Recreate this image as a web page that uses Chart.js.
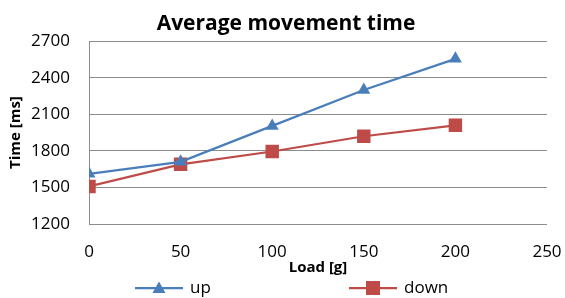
<!DOCTYPE html>
<html>
<head>
<meta charset="utf-8">
<script src="https://cdn.jsdelivr.net/npm/chart.js@4"></script>
<style>
  html, body { margin: 0; padding: 0; background: #fff; }
  #wrap { width: 565px; height: 298px; }
</style>
</head>
<body>
<div id="wrap"><canvas id="chart" width="565" height="298"></canvas></div>
<script>
// -- DATA
const loads    = [0, 50, 100, 150, 200];
const upTimes  = [1612, 1710, 2005, 2300, 2555];
const downTimes= [1508, 1690, 1795, 1920, 2010];
const yTicks   = [1200, 1500, 1800, 2100, 2400, 2700];
const xTicks   = [0, 50, 100, 150, 200, 250];
const seriesNames = ['up', 'down'];

const BLUE = '#4A7EBB';
const RED  = '#BE4B48';
const GRID = '#8C8C8C';
const FONT = '"Open Sans", "Liberation Sans", sans-serif';

// legend swatch: line with the marker on top
function legendMark(color, shape) {
  const c = document.createElement('canvas');
  c.width = 48; c.height = 16;
  const g = c.getContext('2d');
  g.strokeStyle = color; g.lineWidth = 2.25;
  g.beginPath(); g.moveTo(0, 8); g.lineTo(48, 8); g.stroke();
  g.fillStyle = color;
  if (shape === 'triangle') {
    g.beginPath(); g.moveTo(24, 1.5); g.lineTo(30.5, 13); g.lineTo(17.5, 13); g.closePath(); g.fill();
  } else {
    g.fillRect(17, 1, 14, 14);
  }
  return c;
}
const marks = [legendMark(BLUE, 'triangle'), legendMark(RED, 'rect')];

// -- BOTTOM LEGEND (spread out like the original, too wide for the built-in one)
const legendX = [135, 349];
const spreadLegend = {
  id: 'spreadLegend',
  afterDraw(chart) {
    const ctx = chart.ctx;
    const y = 288;
    ctx.save();
    ctx.font = '17px ' + FONT;
    ctx.fillStyle = '#000';
    ctx.textBaseline = 'middle';
    chart.data.datasets.forEach((ds, i) => {
      const m = marks[i];
      ctx.drawImage(m, legendX[i], y - m.height / 2);
      ctx.fillText(ds.label, legendX[i] + m.width + 7, y);
    });
    ctx.restore();
  }
};

const toPts = vals => loads.map((x, i) => ({ x: x, y: vals[i] }));

new Chart(document.getElementById('chart'), {
  type: 'line',
  data: {
    datasets: [
      { label: seriesNames[0], data: toPts(upTimes), borderColor: BLUE, backgroundColor: BLUE, borderWidth: 2.25,
        pointStyle: 'triangle', pointRadius: 7.5, pointBorderWidth: 0, tension: 0 },
      { label: seriesNames[1], data: toPts(downTimes), borderColor: RED, backgroundColor: RED, borderWidth: 2.25,
        pointStyle: 'rect', pointRadius: 9.5, pointBorderWidth: 0, tension: 0 }
    ]
  },
  options: {
    responsive: false, animation: false,
    layout: { padding: { left: 7, right: 0, top: 0, bottom: 21 } },
    plugins: {
      title: { display: true, text: 'Average movement time', color: '#000',
        font: { family: FONT, size: 21, weight: 'bold' }, padding: { top: 11, bottom: 5 } },
      legend: { display: false },
      tooltip: { enabled: false }
    },
    scales: {
      x: {
        type: 'linear', min: 0, max: 250,
        afterBuildTicks: axis => { axis.ticks = xTicks.map(v => ({ value: v })); },
        afterFit: axis => { axis.height = 53; axis.paddingLeft = 0; axis.paddingRight = 18; },
        grid: { display: false, drawTicks: false }, border: { display: false },
        ticks: { color: '#000', padding: 18, autoSkip: false, maxRotation: 0,
          font: { family: FONT, size: 17 }, callback: v => String(v) },
        title: { display: true, text: 'Load [g]', color: '#000', padding: { top: 0, bottom: 0 },
          font: { family: FONT, size: 15, weight: 'bold' } }
      },
      y: {
        min: 1200, max: 2700,
        afterBuildTicks: axis => { axis.ticks = yTicks.map(v => ({ value: v })); },
        afterFit: axis => { axis.width = 82; axis.paddingTop = 0; axis.paddingBottom = 0; },
        grid: { color: GRID, lineWidth: 1, drawTicks: false },
        border: { display: true, color: GRID, width: 1 },
        ticks: { color: '#000', padding: 19, autoSkip: false,
          font: { family: FONT, size: 17 }, callback: v => String(v) },
        title: { display: true, text: 'Time [ms]', color: '#000', padding: { top: 0, bottom: 5 },
          font: { family: FONT, size: 15, weight: 'bold' } }
      }
    }
  },
  plugins: [spreadLegend]
});
</script>
</body>
</html>
